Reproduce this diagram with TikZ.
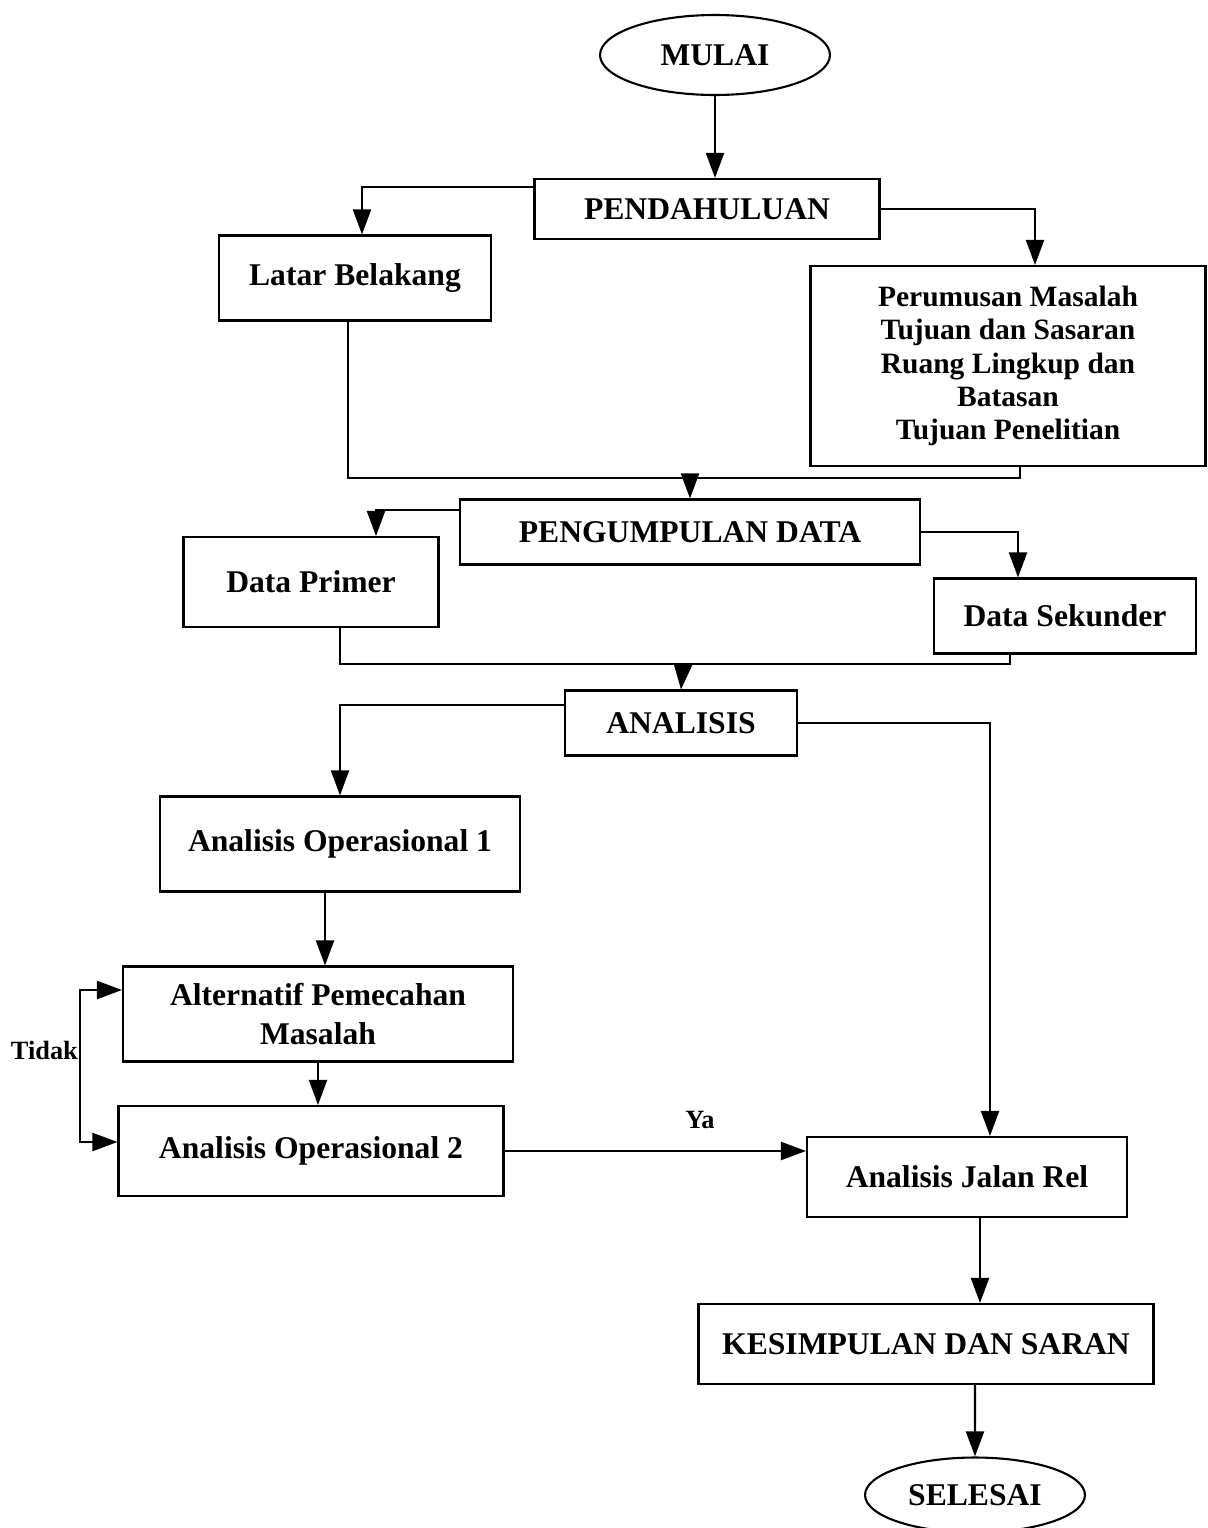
\documentclass[tikz,border=0pt]{standalone}
\usepackage{fontspec}
\setmainfont{Liberation Serif}
\usetikzlibrary{arrows.meta,positioning,shapes.geometric}

\begin{document}
\begin{tikzpicture}[
  x=0.02cm, y=-0.02cm,
  box/.style={rectangle, draw, line width=1.2pt, align=center, inner sep=2pt,
              font=\fontsize{18}{22}\selectfont\bfseries},
  oval/.style={ellipse, draw, line width=1.2pt, inner sep=0pt,
              font=\fontsize{18}{22}\selectfont\bfseries},
  lbl/.style={font=\fontsize{15}{18}\selectfont\bfseries},
  arr/.style={-{Triangle[length=0.5cm, width=0.36cm]}, line width=1.2pt},
  dbl/.style={{Triangle[length=0.5cm, width=0.36cm]}-{Triangle[length=0.5cm, width=0.36cm]}, line width=1.2pt},
  link/.style={line width=1.2pt}
]
\useasboundingbox (0,0) rectangle (1207,1528);

\node[oval, minimum width=4.6cm, minimum height=1.6cm] (mulai) at (715,55) {MULAI};
\node[box, minimum width=6.9cm, minimum height=1.2cm] (pend) at (707,209) {PENDAHULUAN};
\node[box, minimum width=5.44cm, minimum height=1.7cm] (latar) at (355,278) {Latar Belakang};
\node[box, minimum width=7.9cm, minimum height=4.0cm,
      font=\fontsize{16.8}{19}\selectfont\bfseries] (rumus) at (1008,366)
      {Perumusan Masalah\\Tujuan dan Sasaran\\Ruang Lingkup dan\\Batasan\\Tujuan Penelitian};
\coordinate (gabung1) at (690,478);

\node[box, minimum width=9.2cm, minimum height=1.3cm] (kumpul) at (690,532) {PENGUMPULAN DATA};
\node[box, minimum width=5.1cm, minimum height=1.8cm] (primer) at (311,582) {Data Primer};
\node[box, minimum width=5.25cm, minimum height=1.5cm] (sekunder) at (1065,616) {Data Sekunder};
\coordinate (gabung2) at (683,664);

\node[box, minimum width=4.64cm, minimum height=1.3cm] (analisis) at (681,723) {ANALISIS};
\node[box, minimum width=7.2cm, minimum height=1.9cm] (ao1) at (340,844) {Analisis Operasional 1};
\node[box, minimum width=7.8cm, minimum height=1.9cm] (alt) at (318,1014) {Alternatif Pemecahan\\Masalah};
\node[box, minimum width=7.7cm, minimum height=1.8cm] (ao2) at (311,1151) {Analisis Operasional 2};
\node[box, minimum width=6.4cm, minimum height=1.6cm] (rel) at (967,1177) {Analisis Jalan Rel};
\node[box, minimum width=9.1cm, minimum height=1.6cm] (simpul) at (926,1344) {KESIMPULAN DAN SARAN};
\node[oval, minimum width=4.4cm, minimum height=1.5cm] (selesai) at (975,1495) {SELESAI};

\coordinate (balik) at (80,1050);
\node[lbl, anchor=east, inner sep=1pt] (tidak) at (balik) {Tidak};
\node[lbl] (ya) at (700,1120) {Ya};

% pendahuluan
\draw[arr] (mulai.south) -- (mulai.south |- pend.north);
\draw[arr] ([yshift=0.44cm]pend.west) -| ([xshift=0.14cm]latar.north);
\draw[arr] (pend.east) -| ([xshift=0.54cm]rumus.north);
\draw[link] ([xshift=-0.14cm]latar.south) |- (gabung1) -| ([xshift=0.24cm]rumus.south);
\draw[arr] (gabung1) -- (kumpul.north);

% pengumpulan data
\draw[arr] ([yshift=0.44cm]kumpul.west) -| ([xshift=1.3cm]primer.north);
\draw[arr] (kumpul.east) -| ([xshift=-0.94cm]sekunder.north);
\draw[link] ([xshift=0.58cm]primer.south) |- (gabung2) -| ([xshift=-1.1cm]sekunder.south);
\draw[arr] (gabung2) -- (analisis.north);

% analisis
\draw[arr] ([yshift=0.36cm]analisis.west) -| (ao1.north);
\draw[arr] (analisis.east) -| ([xshift=0.46cm]rel.north);
\draw[arr] ([xshift=-0.3cm]ao1.south) -- ([xshift=-0.3cm]ao1.south |- alt.north);
\draw[arr] (alt.south) -- (alt.south |- ao2.north);
\draw[arr] (ao2.east) -- (ao2.east -| rel.west);
\draw[dbl] ([yshift=0.48cm]alt.west) -| (balik) |- ([yshift=0.18cm]ao2.west);

% penutup
\draw[arr] ([xshift=0.26cm]rel.south) -- ([xshift=0.26cm]rel.south |- simpul.north);
\draw[arr] ([xshift=0.98cm]simpul.south) -- (selesai.north);
\end{tikzpicture}
\end{document}
